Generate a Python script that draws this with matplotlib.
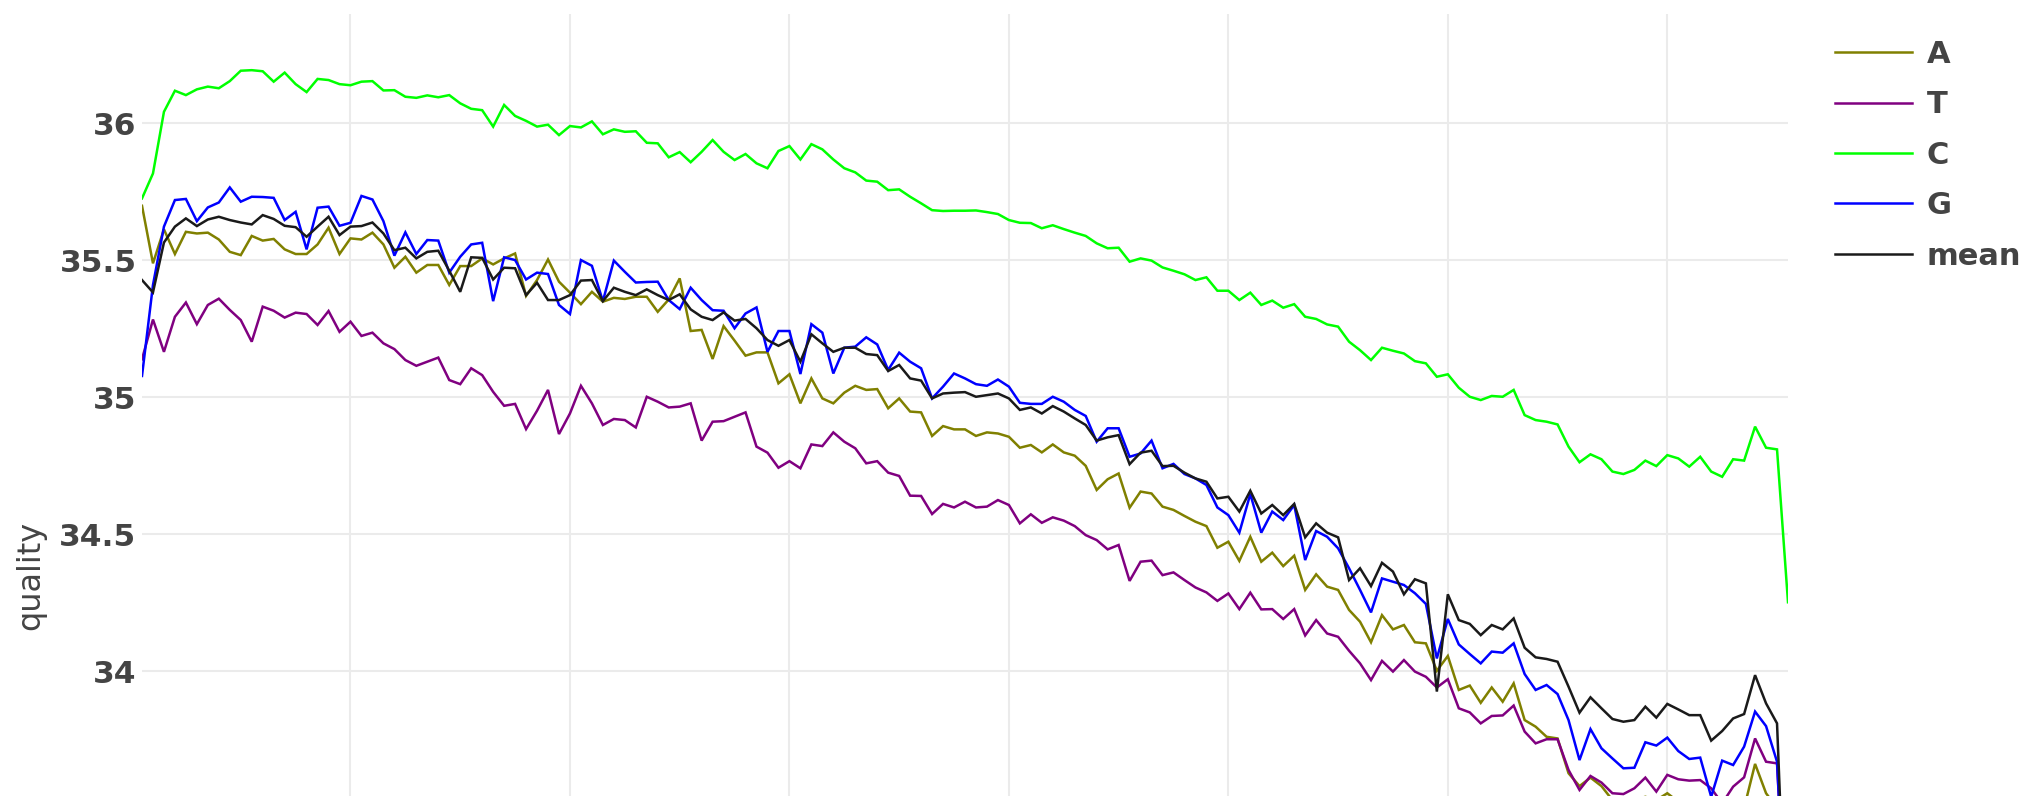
import numpy as np
import matplotlib.pyplot as plt
from matplotlib.ticker import FormatStrFormatter

# per-position mean quality for each base (positions 1..151)
position = np.arange(1, 152)

qual_A = [
    35.698, 35.488, 35.612, 35.522, 35.603, 35.597, 35.600, 35.575, 35.530, 35.518,
    35.588, 35.571, 35.577, 35.539, 35.522, 35.522, 35.557, 35.618, 35.522, 35.579,
    35.575, 35.600, 35.557, 35.472, 35.512, 35.454, 35.482, 35.482, 35.409, 35.478,
    35.478, 35.506, 35.484, 35.506, 35.524, 35.369, 35.427, 35.502, 35.421, 35.381,
    35.339, 35.384, 35.348, 35.362, 35.358, 35.366, 35.366, 35.311, 35.356, 35.433,
    35.241, 35.245, 35.139, 35.259, 35.206, 35.151, 35.163, 35.163, 35.050, 35.083,
    34.977, 35.068, 34.995, 34.977, 35.016, 35.041, 35.026, 35.029, 34.959, 34.995,
    34.947, 34.944, 34.858, 34.894, 34.882, 34.882, 34.858, 34.871, 34.867, 34.855,
    34.815, 34.825, 34.798, 34.827, 34.798, 34.786, 34.749, 34.661, 34.700, 34.721,
    34.596, 34.655, 34.648, 34.600, 34.588, 34.566, 34.545, 34.529, 34.450, 34.472,
    34.402, 34.490, 34.399, 34.432, 34.383, 34.421, 34.296, 34.353, 34.308, 34.296,
    34.223, 34.180, 34.105, 34.204, 34.152, 34.168, 34.105, 34.101, 34.001, 34.055,
    33.931, 33.947, 33.884, 33.940, 33.888, 33.955, 33.821, 33.797, 33.760, 33.754,
    33.627, 33.580, 33.611, 33.580, 33.529, 33.511, 33.529, 33.541, 33.529, 33.554,
    33.523, 33.500, 33.490, 33.500, 33.450, 33.470, 33.500, 33.661, 33.554, 33.500,
    32.900,
]

qual_T = [
    35.138, 35.283, 35.165, 35.293, 35.345, 35.266, 35.336, 35.359, 35.318, 35.281,
    35.202, 35.330, 35.315, 35.290, 35.308, 35.303, 35.263, 35.314, 35.238, 35.275,
    35.223, 35.235, 35.196, 35.175, 35.135, 35.114, 35.129, 35.144, 35.062, 35.047,
    35.105, 35.080, 35.019, 34.968, 34.975, 34.883, 34.950, 35.026, 34.865, 34.940,
    35.041, 34.977, 34.898, 34.920, 34.916, 34.889, 35.001, 34.983, 34.962, 34.965,
    34.977, 34.841, 34.910, 34.912, 34.928, 34.944, 34.819, 34.797, 34.742, 34.766,
    34.740, 34.827, 34.821, 34.871, 34.837, 34.813, 34.758, 34.766, 34.724, 34.712,
    34.640, 34.639, 34.573, 34.610, 34.597, 34.618, 34.597, 34.600, 34.624, 34.606,
    34.539, 34.572, 34.541, 34.561, 34.549, 34.529, 34.496, 34.478, 34.444, 34.460,
    34.329, 34.399, 34.403, 34.350, 34.360, 34.332, 34.305, 34.287, 34.256, 34.283,
    34.226, 34.286, 34.225, 34.226, 34.190, 34.226, 34.130, 34.186, 34.137, 34.125,
    34.074, 34.028, 33.967, 34.037, 33.998, 34.040, 33.998, 33.979, 33.940, 33.970,
    33.864, 33.849, 33.809, 33.836, 33.838, 33.874, 33.779, 33.736, 33.751, 33.751,
    33.639, 33.566, 33.617, 33.593, 33.554, 33.551, 33.572, 33.611, 33.560, 33.621,
    33.605, 33.600, 33.602, 33.572, 33.517, 33.578, 33.612, 33.754, 33.669, 33.663,
    32.900,
]

qual_C = [
    35.725, 35.816, 36.041, 36.118, 36.102, 36.123, 36.133, 36.127, 36.153, 36.191,
    36.193, 36.189, 36.151, 36.184, 36.142, 36.113, 36.161, 36.157, 36.142, 36.138,
    36.151, 36.153, 36.119, 36.120, 36.096, 36.092, 36.101, 36.094, 36.102, 36.072,
    36.052, 36.047, 35.987, 36.066, 36.026, 36.008, 35.987, 35.994, 35.956, 35.989,
    35.984, 36.006, 35.959, 35.977, 35.968, 35.970, 35.928, 35.926, 35.875, 35.894,
    35.857, 35.895, 35.938, 35.895, 35.865, 35.887, 35.853, 35.835, 35.898, 35.916,
    35.867, 35.923, 35.904, 35.867, 35.835, 35.820, 35.790, 35.786, 35.755, 35.758,
    35.731, 35.707, 35.682, 35.679, 35.680, 35.680, 35.681, 35.675, 35.668, 35.646,
    35.636, 35.635, 35.616, 35.627, 35.613, 35.600, 35.588, 35.561, 35.543, 35.545,
    35.494, 35.506, 35.498, 35.473, 35.461, 35.448, 35.427, 35.437, 35.388, 35.388,
    35.354, 35.381, 35.336, 35.352, 35.326, 35.339, 35.293, 35.285, 35.265, 35.257,
    35.202, 35.171, 35.135, 35.180, 35.169, 35.159, 35.131, 35.123, 35.074, 35.083,
    35.034, 35.001, 34.989, 35.004, 35.001, 35.026, 34.934, 34.916, 34.910, 34.900,
    34.819, 34.762, 34.791, 34.773, 34.728, 34.719, 34.734, 34.768, 34.748, 34.788,
    34.776, 34.746, 34.782, 34.728, 34.709, 34.773, 34.768, 34.892, 34.815, 34.809,
    34.251,
]

qual_G = [
    35.077, 35.409, 35.622, 35.719, 35.723, 35.642, 35.692, 35.710, 35.765, 35.713,
    35.731, 35.730, 35.727, 35.646, 35.676, 35.539, 35.691, 35.695, 35.625, 35.636,
    35.734, 35.721, 35.642, 35.516, 35.601, 35.522, 35.573, 35.571, 35.454, 35.512,
    35.557, 35.563, 35.350, 35.510, 35.500, 35.429, 35.454, 35.449, 35.336, 35.303,
    35.500, 35.479, 35.350, 35.498, 35.457, 35.418, 35.420, 35.421, 35.354, 35.321,
    35.399, 35.354, 35.317, 35.315, 35.251, 35.305, 35.327, 35.165, 35.241, 35.241,
    35.084, 35.266, 35.235, 35.086, 35.180, 35.184, 35.218, 35.192, 35.099, 35.162,
    35.129, 35.105, 34.995, 35.038, 35.086, 35.068, 35.047, 35.041, 35.064, 35.038,
    34.979, 34.975, 34.975, 35.001, 34.983, 34.953, 34.931, 34.837, 34.886, 34.886,
    34.782, 34.794, 34.841, 34.740, 34.756, 34.719, 34.703, 34.679, 34.597, 34.569,
    34.505, 34.646, 34.505, 34.582, 34.551, 34.606, 34.405, 34.511, 34.490, 34.448,
    34.375, 34.296, 34.214, 34.338, 34.326, 34.314, 34.284, 34.245, 34.046, 34.190,
    34.097, 34.062, 34.028, 34.071, 34.067, 34.101, 33.989, 33.931, 33.949, 33.916,
    33.821, 33.675, 33.788, 33.718, 33.681, 33.645, 33.647, 33.740, 33.728, 33.757,
    33.708, 33.679, 33.684, 33.541, 33.673, 33.657, 33.724, 33.852, 33.799, 33.669,
    32.900,
]

qual_mean = [
    35.427, 35.382, 35.564, 35.622, 35.652, 35.624, 35.648, 35.658, 35.646, 35.637,
    35.630, 35.664, 35.650, 35.625, 35.620, 35.585, 35.622, 35.658, 35.591, 35.622,
    35.624, 35.637, 35.597, 35.536, 35.545, 35.506, 35.530, 35.534, 35.461, 35.384,
    35.510, 35.508, 35.429, 35.472, 35.470, 35.372, 35.417, 35.354, 35.354, 35.372,
    35.425, 35.427, 35.350, 35.399, 35.384, 35.372, 35.393, 35.372, 35.354, 35.375,
    35.320, 35.293, 35.281, 35.309, 35.279, 35.285, 35.251, 35.208, 35.187, 35.208,
    35.129, 35.229, 35.196, 35.165, 35.180, 35.180, 35.157, 35.153, 35.095, 35.117,
    35.068, 35.060, 34.995, 35.013, 35.016, 35.018, 35.001, 35.007, 35.013, 34.995,
    34.953, 34.962, 34.940, 34.967, 34.947, 34.922, 34.898, 34.841, 34.853, 34.861,
    34.755, 34.797, 34.804, 34.748, 34.749, 34.724, 34.703, 34.691, 34.630, 34.636,
    34.582, 34.658, 34.575, 34.606, 34.569, 34.610, 34.488, 34.539, 34.505, 34.488,
    34.332, 34.375, 34.310, 34.395, 34.363, 34.280, 34.335, 34.320, 33.925, 34.280,
    34.186, 34.172, 34.131, 34.168, 34.152, 34.192, 34.085, 34.050, 34.044, 34.034,
    33.943, 33.848, 33.904, 33.864, 33.825, 33.815, 33.821, 33.870, 33.830, 33.880,
    33.860, 33.839, 33.839, 33.746, 33.781, 33.827, 33.843, 33.985, 33.882, 33.809,
    32.800,
]

labels = ['A', 'T', 'C', 'G', 'mean']
colors = ['#808000', '#800080', '#00ff00', '#0000ff', '#1a1a1a']
series = [qual_A, qual_T, qual_C, qual_G, qual_mean]

text_color = '#444444'
W, H, DPI = 2029, 796, 100

fig = plt.figure(figsize=(W / DPI, H / DPI), dpi=DPI)
# the plot area runs below the bottom edge of the picture (cropped chart)
left, right, top, bottom = 142, 1788, 14, 1136
ax = fig.add_axes([left / W, 1 - bottom / H, (right - left) / W, (bottom - top) / H])

for lab, col, vals in zip(labels, colors, series):
    ax.plot(position, vals, color=col, lw=1.8, label=lab, solid_joinstyle='miter')

ax.set_xlim(1, 151)
ax.set_ylim(32.303, 36.398)
ax.set_xticks(np.arange(20, 141, 20))
ax.set_yticks(np.arange(32.5, 36.01, 0.5))
ax.yaxis.set_major_formatter(FormatStrFormatter('%g'))
ax.tick_params(axis='both', length=0)
ax.tick_params(axis='x', labelbottom=False)
ax.tick_params(axis='y', pad=4, labelsize=22.5, labelcolor=text_color)
for t in ax.get_yticklabels():
    t.set_fontweight('bold')

ax.grid(True, color='#ebebeb', lw=1.5)
ax.set_axisbelow(True)
for s in ax.spines.values():
    s.set_visible(False)

fig.text(31 / W, 1 - 575 / H, 'quality', rotation=90, ha='center', va='center',
         fontsize=23, color=text_color)

leg = ax.legend(loc='upper left', bbox_to_anchor=(1835 / W, 1 - 40 / H),
                bbox_transform=fig.transFigure, frameon=False, fontsize=22,
                handlelength=2.53, handletextpad=0.48, labelspacing=0.70,
                borderpad=0, borderaxespad=0)
for t in leg.get_texts():
    t.set_color(text_color)
    t.set_fontweight('bold')
for h in leg.get_lines():
    h.set_linewidth(1.8)

fig.savefig('out.png', dpi=DPI)
